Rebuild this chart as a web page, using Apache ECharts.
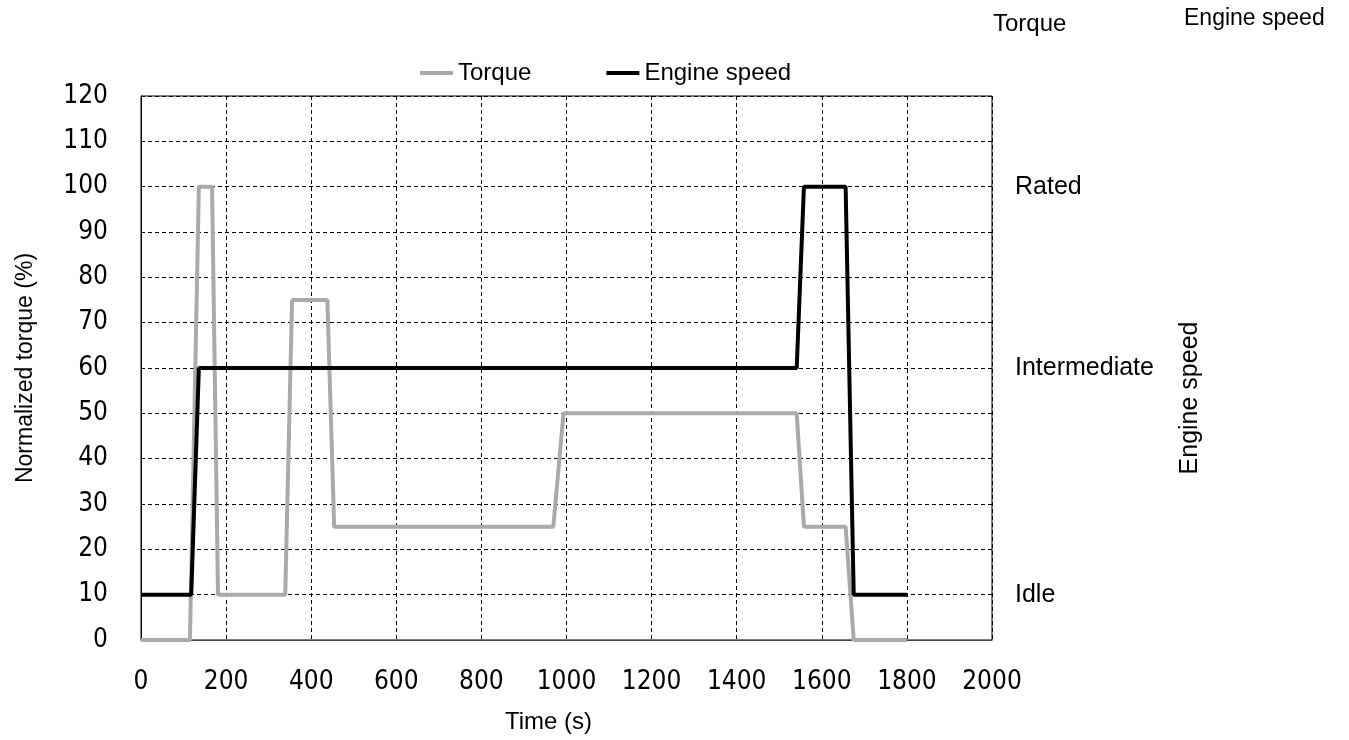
<!DOCTYPE html>
<html>
<head>
<meta charset="utf-8">
<script src="https://cdn.jsdelivr.net/npm/echarts@6/dist/echarts.min.js"></script>
<style>
  html, body { margin: 0; padding: 0; background: #fff; }
  #chart { width: 1349px; height: 740px; }
</style>
</head>
<body>
<div id="chart"></div>
<script>
// time (s), normalized torque (%)
var torqueTime = [0, 115, 136, 167, 181, 339, 355, 438, 454, 969, 993, 1541, 1558, 1656, 1675, 1800];
var torqueValue = [0, 0, 100, 100, 10, 10, 75, 75, 25, 25, 50, 50, 25, 25, 0, 0];
// time (s), engine speed mapped on the same 0-120 scale
var speedTime = [0, 118, 136, 1541, 1558, 1656, 1675, 1800];
var speedValue = [10, 10, 60, 60, 100, 100, 10, 10];
// right axis labels
var speedLevels = { 10: 'Idle', 60: 'Intermediate', 100: 'Rated' };

function pairs(xs, ys) {
    var out = [];
    for (var i = 0; i < xs.length; i++) out.push([xs[i], ys[i]]);
    return out;
}

var chart = echarts.init(document.getElementById('chart'));
var gridLine = { show: true, lineStyle: { color: '#000', type: [4, 3], width: 1 } };
var tickFont = "'DejaVu Sans Condensed', 'DejaVu Sans'";

var option = {
    animation: false,
    textStyle: { fontFamily: 'Liberation Sans' },
    legend: {
        top: 56,
        left: 415,
        itemGap: 75,
        itemWidth: 33,
        itemHeight: 4,
        icon: 'rect',
        textStyle: { fontSize: 24, color: '#000', fontFamily: 'Liberation Sans' },
        data: ['Torque', 'Engine speed']
    },
    graphic: [
        { type: 'text', left: 993, top: 12, style: { text: 'Torque', fontSize: 24, fill: '#000', fontFamily: 'Liberation Sans' } },
        { type: 'text', left: 1184, top: 7, style: { text: 'Engine speed', fontSize: 23, fill: '#000', fontFamily: 'Liberation Sans' } }
    ],
    grid: {
        left: 141, right: 357, top: 96, bottom: 100,
        show: true, borderColor: '#000', borderWidth: 1
    },
    xAxis: {
        type: 'value', min: 0, max: 2000, interval: 200,
        name: 'Time (s)', nameLocation: 'middle', nameGap: 70,
        nameTextStyle: { fontSize: 24, color: '#000', padding: [0, 36, 0, 0] },
        axisLine: { show: true, lineStyle: { color: '#444' } },
        axisTick: { show: false },
        axisLabel: {
            margin: 29, fontSize: 26, color: '#000', fontFamily: tickFont,
            formatter: function (v) { return String(v); }
        },
        splitLine: gridLine
    },
    yAxis: [{
        type: 'value', min: 0, max: 120, interval: 10,
        name: 'Normalized torque (%)', nameLocation: 'middle', nameGap: 104,
        nameTextStyle: { fontSize: 23, color: '#000' },
        axisLine: { show: true, lineStyle: { color: '#000' } },
        axisTick: { show: false },
        axisLabel: { margin: 33, fontSize: 26, color: '#000', fontFamily: tickFont },
        splitLine: gridLine
    }, {
        type: 'value', min: 0, max: 120, interval: 10, position: 'right',
        name: 'Engine speed', nameLocation: 'middle', nameGap: 186, nameRotate: 90,
        nameTextStyle: { fontSize: 25, color: '#000', padding: [0, 60, 0, 0] },
        axisLine: { show: false },
        axisTick: { show: false },
        axisLabel: {
            margin: 23, fontSize: 25, color: '#000',
            formatter: function (v) { return speedLevels[v] || ''; }
        },
        splitLine: { show: false }
    }],
    series: [{
        name: 'Torque', type: 'line', yAxisIndex: 0,
        data: pairs(torqueTime, torqueValue),
        showSymbol: false, symbol: 'none',
        lineStyle: { color: '#aaaaaa', width: 4 },
        itemStyle: { color: '#aaaaaa' },
        z: 2
    }, {
        name: 'Engine speed', type: 'line', yAxisIndex: 0,
        data: pairs(speedTime, speedValue),
        showSymbol: false, symbol: 'none',
        lineStyle: { color: '#000', width: 4 },
        itemStyle: { color: '#000' },
        z: 3
    }]
};
chart.setOption(option);
</script>
</body>
</html>
